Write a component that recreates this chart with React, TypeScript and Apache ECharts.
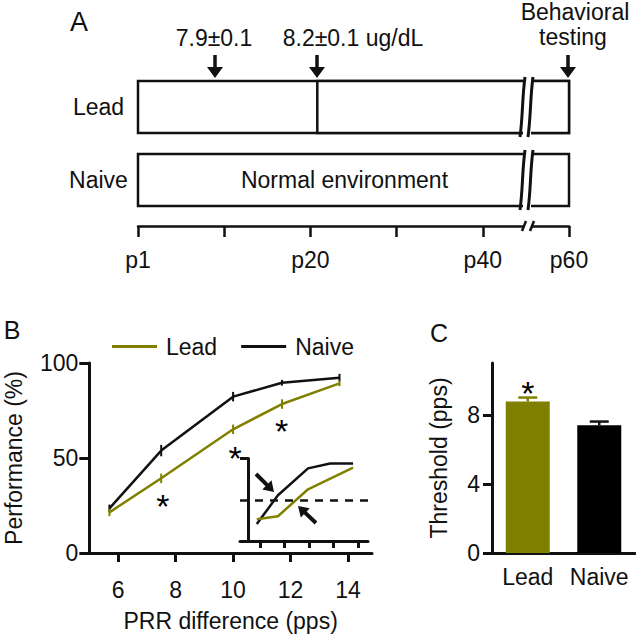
import React, { useEffect, useRef } from 'react';
import * as echarts from 'echarts';

const FONT = '"Liberation Sans", Arial, Helvetica, sans-serif';
const INK = '#111111';
const OLIVE = '#808000';

// ---------- Panel A: timeline ----------
const timelineGroups = ['Lead', 'Naive'];
const segGroup = [0, 0, 1];
const segStart = [0, 2.08, 0];
const segEnd = [5, 5, 5];
const segText = ['Lead', '', 'Normal environment'];
const dayTickValues = [0, 1, 2, 3, 4, 5];
const dayLabelValues = [0, 2, 4, 5];
const dayLabelText = ['p1', 'p20', 'p40', 'p60'];
const bloodLevelText = ['7.9±0.1', '8.2±0.1 ug/dL'];

// ---------- Panel B: performance ----------
const prrDiff = [5.7, 7.5, 10, 11.7, 13.7];
const leadPerf = [21.4, 39.3, 65.1, 78.4, 89.3];
const naivePerf = [23.5, 53.9, 82.3, 89.6, 92.3];
const leadErr = [2, 2.5, 2.5, 2.5, 1.5];
const naiveErr = [2, 3, 2.5, 1.5, 2];
const prrTicks = [6, 8, 10, 12, 14];
const sigX = [7.56, 10.07, 11.69];
const sigY = [28.9, 54.2, 68.6];

// inset (schematic threshold illustration)
const insetNaiveX = [0.865, 1.73, 2.96, 3.86, 4.8];
const insetNaiveY = [0.205, 0.554, 0.88, 0.94, 0.94];
const insetLeadX = [0.865, 1.73, 2.96, 4.8];
const insetLeadY = [0.265, 0.3, 0.627, 0.89];
const insetTicks = [1, 2, 3, 4, 5];
const insetThreshold = 0.5;

// ---------- Panel C: threshold ----------
const thresholdGroups = ['Lead', 'Naive'];
const thresholdVals = [8.77, 7.4];
const thresholdErr = [0.23, 0.21];
const thresholdTicks = [0, 4, 8];
const thresholdSig = [9.74];

function arrowPoints(tail: number[], tip: number[], shaftW: number, headL: number, headW: number) {
  const dx = tip[0] - tail[0];
  const dy = tip[1] - tail[1];
  const L = Math.hypot(dx, dy);
  const ux = dx / L, uy = dy / L;
  const px = -uy, py = ux;
  const bx = tip[0] - ux * headL, by = tip[1] - uy * headL;
  return [
    [tail[0] + px * shaftW / 2, tail[1] + py * shaftW / 2],
    [bx + px * shaftW / 2, by + py * shaftW / 2],
    [bx + px * headW / 2, by + py * headW / 2],
    [tip[0], tip[1]],
    [bx - px * headW / 2, by - py * headW / 2],
    [bx - px * shaftW / 2, by - py * shaftW / 2],
    [tail[0] - px * shaftW / 2, tail[1] - py * shaftW / 2],
  ];
}

function txt(text: string, x: number, y: number, size = 23, extra: any = {}) {
  return {
    type: 'text', z: 50,
    style: { text, x, y, fill: INK, font: `${size}px ${FONT}`, align: 'center', verticalAlign: 'middle', ...extra },
  };
}

function breakMark(top: number, bottom: number) {
  const h = bottom - top;
  const els: any[] = [
    { type: 'rect', z: 40, shape: { x: 523, y: top - 3, width: 8, height: h + 6 }, style: { fill: '#fff' } },
  ];
  [520, 528].forEach((X) => {
    els.push({
      type: 'bezierCurve', z: 41,
      shape: {
        x1: X + 5, y1: top - 4, x2: X, y2: bottom + 4,
        cpx1: X + 2, cpy1: top + h * 0.35, cpx2: X + 3, cpy2: bottom - h * 0.35,
      },
      style: { stroke: INK, lineWidth: 3, fill: null },
    });
  });
  return els;
}

function asteriskSeries(xAxisIndex: number, yAxisIndex: number, data: number[][]) {
  return {
    type: 'custom', xAxisIndex, yAxisIndex, silent: true, z: 10,
    data,
    renderItem: (params: any, api: any) => {
      const p = api.coord([api.value(0), api.value(1)]);
      return {
        type: 'text',
        style: { text: '*', x: p[0], y: p[1] + 8, align: 'center', verticalAlign: 'middle', fill: '#000', font: `34px ${FONT}` },
      };
    },
  };
}

export default function App() {
  const ref = useRef<HTMLDivElement>(null);
  useEffect(() => {
    if (!ref.current) return;
    const chart = echarts.init(ref.current, null, { renderer: 'svg' });
    const axisLine = { show: true, onZero: false, lineStyle: { color: INK, width: 3 } };
    const label = { color: INK, fontSize: 23, fontFamily: FONT };

    const graphic: any[] = [
      txt('A', 79, 22, 27),
      txt('B', 12, 330, 25),
      txt('C', 439, 333, 25),
      txt(bloodLevelText[0], 214, 38),
      txt(bloodLevelText[1], 353, 38),
      txt('Behavioral', 575, 12),
      txt('testing', 573, 37),
    ];
    [215, 317, 568].forEach((x) => {
      graphic.push({ type: 'polygon', z: 50, shape: { points: arrowPoints([x, 55], [x, 78], 3.5, 11, 16) }, style: { fill: INK } });
    });
    graphic.push(...breakMark(81, 133));
    graphic.push(...breakMark(154, 206));
    graphic.push({ type: 'rect', z: 40, shape: { x: 524, y: 222, width: 8, height: 8 }, style: { fill: '#fff' } });
    graphic.push({ type: 'line', z: 41, shape: { x1: 526, y1: 221, x2: 522, y2: 231 }, style: { stroke: INK, lineWidth: 2.5 } });
    graphic.push({ type: 'line', z: 41, shape: { x1: 534, y1: 221, x2: 530, y2: 231 }, style: { stroke: INK, lineWidth: 2.5 } });
    graphic.push({ type: 'polygon', z: 50, shape: { points: arrowPoints([256, 474], [274, 492], 4, 10, 13) }, style: { fill: INK } });
    graphic.push({ type: 'polygon', z: 50, shape: { points: arrowPoints([316, 523], [298, 506], 4, 10, 13) }, style: { fill: INK } });

    const option: any = {
      animation: false,
      backgroundColor: '#fff',
      textStyle: { fontFamily: FONT },
      graphic,
      legend: {
        data: ['Lead', 'Naive'], left: 107, top: 330, icon: 'rect', itemWidth: 45, itemHeight: 3, itemGap: 24,
        textStyle: { ...label, padding: [0, 0, 0, 4] },
      },
      grid: [
        { left: 138, top: 70.5, width: 431, height: 146 },
        { left: 89.3, top: 363, width: 282.7, height: 190 },
        { left: 240, top: 458.5, width: 128, height: 82.5 },
        { left: 492, top: 363, width: 143, height: 190 },
      ],
      xAxis: [
        {
          gridIndex: 0, type: 'value', min: 0, max: 5, interval: 1, offset: 9.5,
          axisLine: { ...axisLine, lineStyle: { color: INK, width: 2.5 } },
          axisTick: { show: true, length: 11, customValues: dayTickValues, lineStyle: { color: INK, width: 2.5 } },
          axisLabel: { ...label, margin: 22, customValues: dayLabelValues, formatter: (v: number) => dayLabelText[dayLabelValues.indexOf(v)] || '' },
          splitLine: { show: false },
        },
        {
          gridIndex: 1, type: 'value', min: 5, max: 14.83,
          axisLine,
          axisTick: { show: true, length: 9, customValues: prrTicks, lineStyle: { color: INK, width: 3 } },
          axisLabel: { ...label, margin: 25, customValues: prrTicks },
          splitLine: { show: false },
          name: 'PRR difference (pps)', nameLocation: 'middle', nameGap: 56, nameTextStyle: label,
        },
        {
          gridIndex: 2, type: 'value', min: 0.18, max: 5.41,
          axisLine,
          axisTick: { show: true, length: 7, customValues: insetTicks, lineStyle: { color: INK, width: 3 } },
          axisLabel: { show: false },
          splitLine: { show: false },
        },
        {
          gridIndex: 3, type: 'category', data: thresholdGroups,
          axisLine,
          axisTick: { show: false },
          axisLabel: { ...label, margin: 12, interval: 0 },
        },
      ],
      yAxis: [
        {
          gridIndex: 0, type: 'category', data: timelineGroups, inverse: true,
          axisLine: { show: false }, axisTick: { show: false },
          axisLabel: { ...label, align: 'center', margin: 39.5 },
        },
        {
          gridIndex: 1, type: 'value', min: 0, max: 100, interval: 50,
          axisLine,
          axisTick: { show: true, length: 10, lineStyle: { color: INK, width: 3 } },
          axisLabel: { ...label, margin: 11 },
          splitLine: { show: false },
          name: 'Performance (%)', nameLocation: 'middle', nameGap: 64, nameTextStyle: label,
        },
        {
          gridIndex: 2, type: 'value', min: 0, max: 1, offset: -8,
          axisLine,
          axisTick: { show: true, length: 8, customValues: [1], lineStyle: { color: INK, width: 3 } },
          axisLabel: { show: false },
          splitLine: { show: false },
        },
        {
          gridIndex: 3, type: 'value', min: 0, max: 11,
          axisLine,
          axisTick: { show: true, length: 9, customValues: thresholdTicks, lineStyle: { color: INK, width: 3 } },
          axisLabel: { ...label, margin: 12, customValues: thresholdTicks },
          splitLine: { show: false },
          name: 'Threshold (pps)', nameLocation: 'middle', nameGap: 42, nameTextStyle: label,
        },
      ],
      series: [
        {
          type: 'custom', xAxisIndex: 0, yAxisIndex: 0, silent: true,
          data: segStart.map((s, i) => [s, segEnd[i], segGroup[i]]),
          renderItem: (params: any, api: any) => {
            const a = api.coord([api.value(0), api.value(2)]);
            const b = api.coord([api.value(1), api.value(2)]);
            const h = 52;
            const t = segText[params.dataIndex];
            const shift = t.length > 6 ? -9 : 0;
            return {
              type: 'group',
              children: [
                { type: 'rect', shape: { x: a[0], y: a[1] - h / 2, width: b[0] - a[0], height: h }, style: { fill: '#fff', stroke: INK, lineWidth: 2.5 } },
                { type: 'text', style: { text: t, x: (a[0] + b[0]) / 2 + shift, y: a[1], align: 'center', verticalAlign: 'middle', fill: INK, font: `23px ${FONT}` } },
              ],
            };
          },
        },
        {
          name: 'Naive', type: 'line', xAxisIndex: 1, yAxisIndex: 1, symbol: 'none', color: INK,
          lineStyle: { color: INK, width: 2.5 },
          data: prrDiff.map((x, i) => [x, naivePerf[i]]),
        },
        {
          name: 'Lead', type: 'line', xAxisIndex: 1, yAxisIndex: 1, symbol: 'none', color: OLIVE,
          lineStyle: { color: OLIVE, width: 2.5 },
          data: prrDiff.map((x, i) => [x, leadPerf[i]]),
        },
        ...[
          { vals: naivePerf, err: naiveErr, color: INK },
          { vals: leadPerf, err: leadErr, color: OLIVE },
        ].map((g) => ({
          type: 'custom', xAxisIndex: 1, yAxisIndex: 1, silent: true,
          data: prrDiff.map((x, i) => [x, g.vals[i], g.err[i]]),
          renderItem: (params: any, api: any) => {
            const x = api.value(0), y = api.value(1), e = api.value(2);
            const p1 = api.coord([x, y + e]);
            const p2 = api.coord([x, y - e]);
            return { type: 'line', shape: { x1: p1[0], y1: p1[1], x2: p2[0], y2: p2[1] }, style: { stroke: g.color, lineWidth: 2 } };
          },
        })),
        asteriskSeries(1, 1, sigX.map((x, i) => [x, sigY[i]])),
        {
          name: 'NaiveInset', type: 'line', xAxisIndex: 2, yAxisIndex: 2, symbol: 'none',
          lineStyle: { color: INK, width: 2.5 },
          data: insetNaiveX.map((x, i) => [x, insetNaiveY[i]]),
          markLine: {
            silent: true, symbol: 'none', label: { show: false },
            lineStyle: { color: INK, width: 2.5, type: [8, 7] },
            data: [{ yAxis: insetThreshold }],
          },
        },
        {
          name: 'LeadInset', type: 'line', xAxisIndex: 2, yAxisIndex: 2, symbol: 'none',
          lineStyle: { color: OLIVE, width: 2.5 },
          data: insetLeadX.map((x, i) => [x, insetLeadY[i]]),
        },
        {
          name: 'Threshold', type: 'bar', xAxisIndex: 3, yAxisIndex: 3, barWidth: 44,
          data: thresholdVals.map((v, i) => ({ value: v, itemStyle: { color: i === 0 ? OLIVE : '#000' } })),
        },
        {
          type: 'custom', xAxisIndex: 3, yAxisIndex: 3, silent: true, z: 3,
          data: thresholdVals.map((v, i) => [i, v, thresholdErr[i]]),
          renderItem: (params: any, api: any) => {
            const i = api.value(0), v = api.value(1), e = api.value(2);
            const p1 = api.coord([i, v]);
            const p2 = api.coord([i, v + e]);
            const color = params.dataIndex === 0 ? OLIVE : INK;
            return {
              type: 'group',
              children: [
                { type: 'line', shape: { x1: p1[0], y1: p1[1], x2: p2[0], y2: p2[1] }, style: { stroke: color, lineWidth: 2.5 } },
                { type: 'line', shape: { x1: p2[0] - 9.5, y1: p2[1], x2: p2[0] + 9.5, y2: p2[1] }, style: { stroke: color, lineWidth: 2.5 } },
              ],
            };
          },
        },
        asteriskSeries(3, 3, thresholdSig.map((v) => [0, v])),
      ],
    };
    chart.setOption(option);
    return () => chart.dispose();
  }, []);
  return <div ref={ref} style={{ position: 'absolute', left: 0, top: 0, width: 636, height: 637 }} />;
}
